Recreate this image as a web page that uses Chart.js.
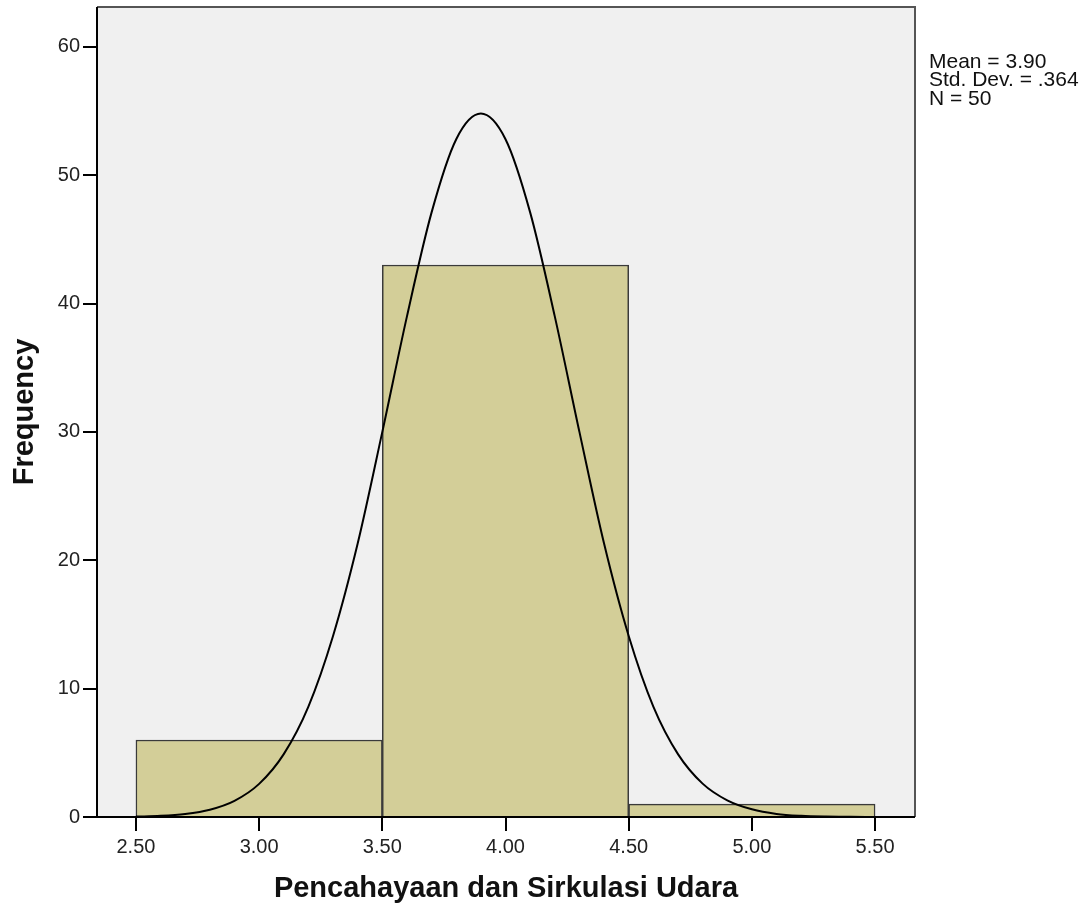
<!DOCTYPE html>
<html>
<head>
<meta charset="utf-8">
<script src="https://cdn.jsdelivr.net/npm/chart.js@4/dist/chart.umd.min.js"></script>
<style>
  html, body { margin: 0; padding: 0; background: #ffffff; }
  #wrap { width: 1090px; height: 916px; }
</style>
</head>
<body>
<div id="wrap"><canvas id="histChart" width="1090" height="916"></canvas></div>
<script>
// histogram bins (bin centres) and counts
var binCenters = [3.0, 4.0, 5.0];
var binCounts = [6, 43, 1];

// normal curve
var curveX = [2.5, 2.6, 2.7, 2.8, 2.9, 3.0, 3.1, 3.2, 3.3, 3.4, 3.5, 3.6, 3.7, 3.8, 3.9,
              4.0, 4.1, 4.2, 4.3, 4.4, 4.5, 4.6, 4.7, 4.8, 4.9, 5.0, 5.1, 5.2, 5.3, 5.4, 5.5];
var curveY = [0.03, 0.09, 0.24, 0.57, 1.26, 2.58, 4.9, 8.6, 14.1, 21.3, 30.0, 39.0, 47.1, 52.8, 54.8,
              52.8, 47.1, 39.0, 30.0, 21.3, 14.1, 8.6, 4.9, 2.6, 1.3, 0.6, 0.24, 0.09, 0.03, 0.01, 0.0];

// axis ticks
var xTicks = [2.5, 3.0, 3.5, 4.0, 4.5, 5.0, 5.5];
var yTicks = [0, 10, 20, 30, 40, 50, 60];

var statsLines = ['Mean = 3.90', 'Std. Dev. = .364', 'N = 50'];

var xTitle = 'Pencahayaan dan Sirkulasi Udara';
var yTitle = 'Frequency';

var FONT = '"Liberation Sans", Arial, sans-serif';

// grey plot area + frame + stats text
var plotDecor = {
    id: 'plotDecor',
    beforeDatasetsDraw: function (chart) {
        var a = chart.chartArea, ctx = chart.ctx;
        ctx.save();
        ctx.fillStyle = '#f0f0f0';
        ctx.fillRect(a.left, a.top, a.right - a.left, a.bottom - a.top);
        ctx.restore();
    },
    afterDraw: function (chart) {
        var a = chart.chartArea, ctx = chart.ctx;
        ctx.save();
        ctx.strokeStyle = '#555555';
        ctx.lineWidth = 2;
        ctx.beginPath();
        ctx.moveTo(a.left, a.top);
        ctx.lineTo(a.right, a.top);
        ctx.lineTo(a.right, a.bottom);
        ctx.stroke();
        ctx.strokeStyle = '#000000';
        ctx.beginPath();
        ctx.moveTo(a.left, a.top);
        ctx.lineTo(a.left, a.bottom);
        ctx.lineTo(a.right, a.bottom);
        ctx.stroke();

        ctx.fillStyle = '#111111';
        ctx.font = '21px ' + FONT;
        ctx.textBaseline = 'alphabetic';
        ctx.textAlign = 'left';
        statsLines.forEach(function (t, i) {
            ctx.fillText(t, a.right + 14, a.top + 61 + i * 18.3);
        });
        ctx.restore();
    }
};

var ctx = document.getElementById('histChart').getContext('2d');
var histChart = new Chart(ctx, {
    data: {
        datasets: [{
            type: 'line',
            data: curveX.map(function (x, i) { return { x: x, y: curveY[i] }; }),
            borderColor: '#000000',
            borderWidth: 2,
            pointRadius: 0,
            cubicInterpolationMode: 'monotone',
            fill: false,
            order: 0
        }, {
            type: 'bar',
            xAxisID: 'xb',
            data: binCenters.map(function (x, i) { return { x: x, y: binCounts[i] }; }),
            backgroundColor: '#d3ce98',
            borderColor: '#3a3a3a',
            borderWidth: 1.5,
            grouped: false,
            categoryPercentage: 1.0,
            barPercentage: 1.0,
            order: 1
        }]
    },
    options: {
        responsive: false,
        devicePixelRatio: 1,
        animation: false,
        layout: { padding: { left: 0, top: 7, right: 175, bottom: 0 } },
        plugins: {
            legend: { display: false },
            tooltip: { enabled: false }
        },
        scales: {
            x: {
                type: 'linear',
                min: 2.342,
                max: 5.662,
                afterBuildTicks: function (s) { s.ticks = xTicks.map(function (v) { return { value: v }; }); },
                afterFit: function (s) { s.height = 99; s.paddingLeft = 0; s.paddingRight = 0; },
                ticks: {
                    color: '#222222',
                    font: { family: FONT, size: 20 },
                    padding: 4,
                    maxRotation: 0,
                    autoSkip: false,
                    callback: function (v) { return Number(v).toFixed(2); }
                },
                grid: { drawOnChartArea: false, color: '#000000', lineWidth: 2, tickLength: 14 },
                border: { display: false },
                title: {
                    display: true,
                    text: xTitle,
                    color: '#111111',
                    font: { family: FONT, size: 29, weight: 'bold' },
                    padding: { top: 0, bottom: 10 }
                }
            },
            xb: {
                type: 'linear',
                display: false,
                min: 2.342,
                max: 5.662,
                afterBuildTicks: function (s) { s.ticks = []; }
            },
            y: {
                min: 0,
                max: 63.1,
                afterBuildTicks: function (s) { s.ticks = yTicks.map(function (v) { return { value: v }; }); },
                afterFit: function (s) { s.width = 97; s.paddingTop = 0; s.paddingBottom = 0; },
                ticks: {
                    color: '#222222',
                    font: { family: FONT, size: 20 },
                    padding: 3
                },
                grid: { drawOnChartArea: false, color: '#000000', lineWidth: 2, tickLength: 14 },
                border: { display: false },
                title: {
                    display: true,
                    text: yTitle,
                    color: '#111111',
                    font: { family: FONT, size: 29, weight: 'bold' },
                    padding: { top: 8, bottom: 0 }
                }
            }
        }
    },
    plugins: [plotDecor]
});
</script>
</body>
</html>
